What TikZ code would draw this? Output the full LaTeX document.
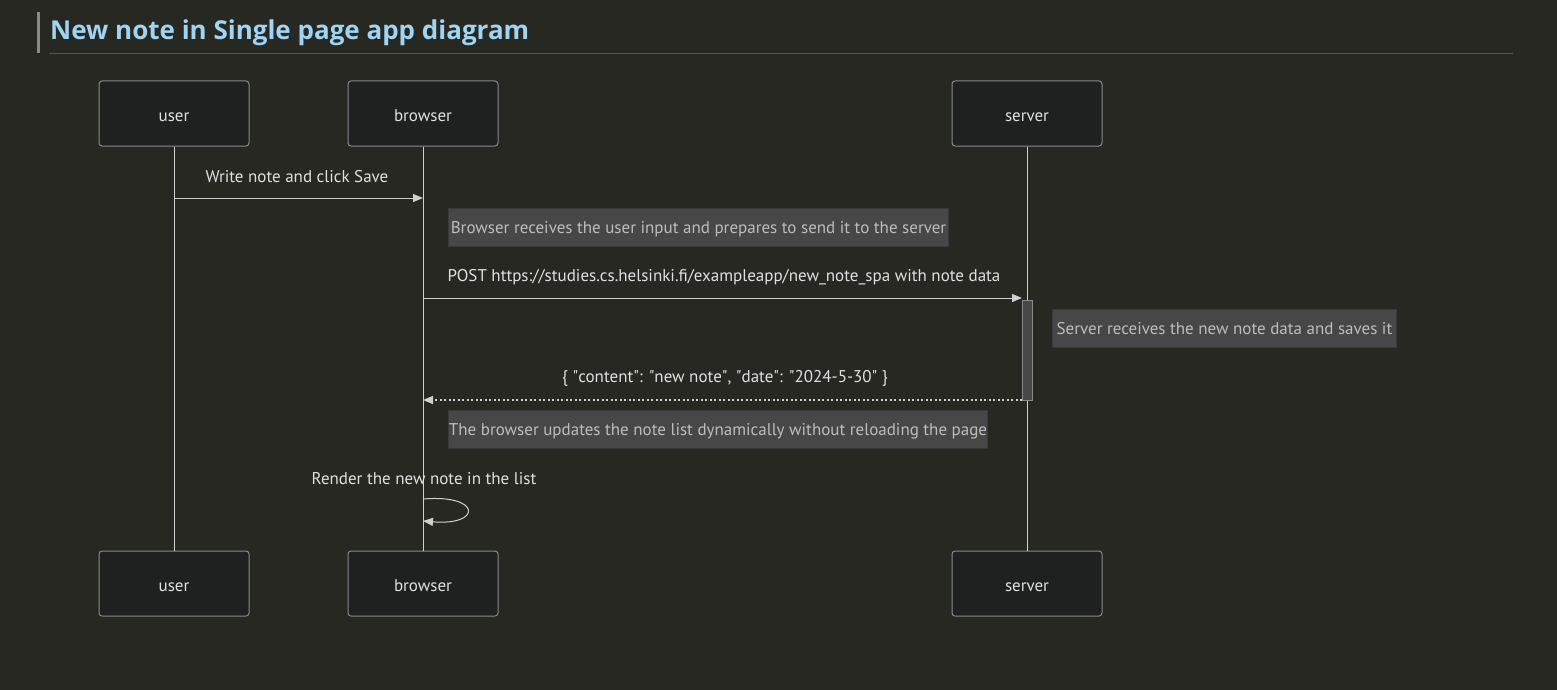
\documentclass[tikz,border=0pt]{standalone}
\usepackage{fontspec}
\setmainfont{PT Sans}
\newfontfamily\titlefont{Open Sans}
\usetikzlibrary{arrows.meta}
\definecolor{bg}{HTML}{272822}
\definecolor{titleblue}{HTML}{A0D4F2}
\definecolor{actfill}{HTML}{1F2020}
\definecolor{actdraw}{HTML}{8A8A8A}
\definecolor{linec}{HTML}{D0D0D0}
\definecolor{txt}{HTML}{E0E0E0}
\definecolor{notefill}{HTML}{474747}
\definecolor{notedraw}{HTML}{3A3A3A}
\definecolor{notetxt}{HTML}{BDBDBD}
\definecolor{rulec}{HTML}{555555}
\newcommand\fs{\fontsize{17}{20}\selectfont}
\tikzset{
  actor/.style={draw=actdraw, fill=actfill, rounded corners=3pt, line width=1pt, minimum width=150pt, minimum height=65pt, text=txt, font=\fs, inner sep=0pt, text height=1.3ex+9pt, text depth=0pt},
  life/.style={draw=linec, line width=1pt},
  msg/.style={draw=linec, line width=1pt, -{Triangle[length=10pt,width=8pt]}},
  reply/.style={draw=linec, line width=1.2pt, dash pattern=on 2pt off 2.5pt, -{Triangle[length=10pt,width=8pt]}},
  lbl/.style={text=txt, font=\fs, inner sep=0pt},
  note/.style={draw=notedraw, fill=notefill, line width=1pt, text=notetxt, font=\fs, inner sep=0pt, minimum height=38pt, anchor=west, text height=1.3ex+6pt, text depth=0pt},
}
\begin{document}
\begin{tikzpicture}[x=1pt,y=-1pt]
\fill[bg] (0,0) rectangle (1557,690);
\useasboundingbox (0,0) rectangle (1557,690);
% title
\fill[actdraw] (37,12) rectangle (39.5,53);
\node[anchor=base west, text=titleblue, font=\titlefont\bfseries\fontsize{26}{31}\selectfont, inner sep=0pt] (title) at (50,40) {New note in Single page app diagram};
\draw[rulec, line width=1pt] (49,54) -- (1513,54);
% actors
\node[actor] (u1) at (174,113.5) {user};
\node[actor] (b1) at (423,113.5) {browser};
\node[actor] (s1) at (1027,113.5) {server};
\node[actor] (u2) at (174,583.5) {user};
\node[actor] (b2) at (423,583.5) {browser};
\node[actor] (s2) at (1027,583.5) {server};
\draw[life] (u1.south) -- (u2.north);
\draw[life] (b1.south) -- (b2.north);
\draw[life] (s1.south) -- (s2.north);
% activation
\node[draw=actdraw, fill=notefill, line width=1pt, minimum width=10pt, minimum height=100pt, inner sep=0pt] (act) at (1027,350) {};
% message 1
\coordinate (m1a) at (174,198);
\coordinate (m1b) at (423,198);
\draw[msg] (m1a) -- (m1b);
\node[lbl] (l1) at (297,176.5) {Write note and click Save};
% note 1
\node[note, minimum width=500pt] (n1) at (448,227.5) {Browser receives the user input and prepares to send it to the server};
% message 2
\coordinate (m2a) at (423,298);
\coordinate (m2b) at (1022,298);
\draw[msg] (m2a) -- (m2b);
\node[lbl] (l2) at (724,277.5) {POST https://studies.cs.helsinki.fi/exampleapp/new\_note\_spa with note data};
% note 2
\node[note, minimum width=344pt] (n2) at (1052,328) {Server receives the new note data and saves it};
% message 3
\coordinate (m3a) at (1022,400);
\coordinate (m3b) at (423,400);
\draw[reply] (m3a) -- (m3b);
\node[lbl] (l3) at (725,378.5) {\{ \textquotedbl content\textquotedbl: \textquotedbl new note\textquotedbl, \textquotedbl date\textquotedbl: \textquotedbl 2024-5-30\textquotedbl\ \}};
% note 3
\node[note, minimum width=539pt] (n3) at (448,429) {The browser updates the note list dynamically without reloading the page};
% self message
\node[lbl] (l4) at (424,479) {Render the new note in the list};
\coordinate (sa) at (423,499);
\coordinate (sb) at (423,521);
\draw[msg] (sa) .. controls (482,494) and (482,526) .. (sb);
\end{tikzpicture}
\end{document}
